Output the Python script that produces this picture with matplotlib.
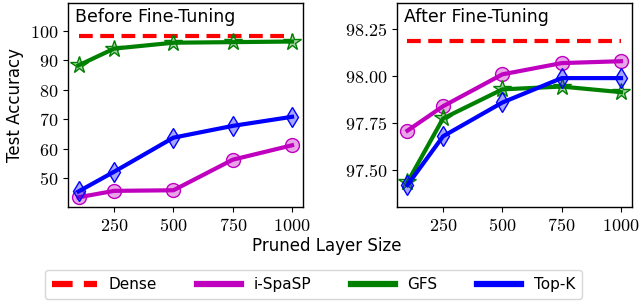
import matplotlib
matplotlib.use("Agg")
import matplotlib.pyplot as plt
from matplotlib.ticker import FuncFormatter, FixedLocator

plt.rcParams['mathtext.fontset'] = 'cm'

sizes = [100, 250, 500, 750, 1000]
xticks = [250, 500, 750, 1000]

# Before fine-tuning
dense_before = [98.2] * 5
ispasp_before = [43.4, 45.6, 45.8, 56.2, 61.1]
gfs_before = [88.3, 94.0, 96.0, 96.2, 96.4]
topk_before = [45.4, 52.1, 63.7, 67.7, 70.8]

# After fine-tuning
dense_after = [98.19] * 5
ispasp_after = [97.71, 97.84, 98.01, 98.07, 98.08]
gfs_after = [97.435, 97.775, 97.93, 97.945, 97.915]
topk_after = [97.42, 97.68, 97.86, 97.99, 97.99]

left_yticks = [50, 60, 70, 80, 90, 100]
right_yticks = [97.50, 97.75, 98.00, 98.25]

fig = plt.figure(figsize=(6.4, 3.04), dpi=100)
ax1 = fig.add_axes([0.106, 0.319, 0.367, 0.671])
ax2 = fig.add_axes([0.620, 0.319, 0.367, 0.671])

def draw(ax, dense, isp, gfs, topk):
    ax.plot(sizes, dense, color='#ff0000', lw=3, ls=(0, (3.3, 1.8)), label='Dense', zorder=3)
    ax.plot(sizes, isp, color='#bf00bf', lw=3, marker='o', ms=10, mfc=(0.75, 0.0, 0.75, 0.35),
            mec='#bf00bf', mew=1.0, label='i-SpaSP', zorder=3)
    ax.plot(sizes, gfs, color='#008000', lw=3, marker='*', ms=13, mfc=(0.0, 0.5, 0.0, 0.35),
            mec='#008000', mew=1.0, label='GFS', zorder=4)
    ax.plot(sizes, topk, color='#0000ff', lw=3, marker='d', ms=10, mfc=(0.0, 0.0, 1.0, 0.35),
            mec='#0000ff', mew=1.0, label='Top-K', zorder=5)
    ax.set_xlim(55, 1045)
    ax.xaxis.set_major_locator(FixedLocator(xticks))
    ax.xaxis.set_major_formatter(FuncFormatter(lambda v, p: r'$%d$' % v))
    ax.tick_params(labelsize=13)
    for s in ax.spines.values():
        s.set_linewidth(1.0)

draw(ax1, dense_before, ispasp_before, gfs_before, topk_before)
draw(ax2, dense_after, ispasp_after, gfs_after, topk_after)

ax1.set_ylim(40.1, 109.5)
ax1.yaxis.set_major_locator(FixedLocator(left_yticks))
ax1.yaxis.set_major_formatter(FuncFormatter(lambda v, p: r'$%d$' % v))
ax2.set_ylim(97.303, 98.39)
ax2.yaxis.set_major_locator(FixedLocator(right_yticks))
ax2.yaxis.set_major_formatter(FuncFormatter(lambda v, p: r'$%.2f$' % v))

ax1.text(0.03, 0.975, 'Before Fine-Tuning', transform=ax1.transAxes, ha='left', va='top',
         fontsize=12.5, family='DejaVu Sans')
ax2.text(0.03, 0.975, 'After Fine-Tuning', transform=ax2.transAxes, ha='left', va='top',
         fontsize=12.5, family='DejaVu Sans')

ax1.set_ylabel('Test Accuracy', fontsize=12, family='DejaVu Sans')
fig.text(0.51, 0.19, 'Pruned Layer Size', ha='center', va='center', fontsize=12, family='DejaVu Sans')

handles, labels = ax1.get_legend_handles_labels()
leg = fig.legend(handles, labels, loc='center', bbox_to_anchor=(0.49, 0.064), ncol=4,
                 handlelength=2.9, columnspacing=2.6, handletextpad=0.8, frameon=True,
                 borderpad=0.45, prop={'family': 'DejaVu Sans', 'size': 11})
for h in leg.get_lines():
    h.set_marker('')
    h.set_linewidth(4.5)

fig.savefig('out.png', dpi=100)
